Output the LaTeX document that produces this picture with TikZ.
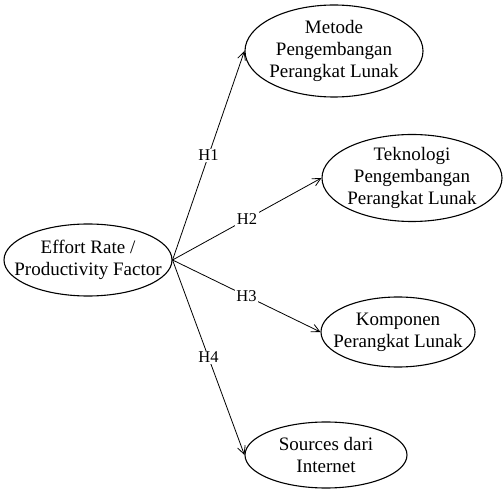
\documentclass[tikz,border=0pt]{standalone}
\usepackage{fontspec}
\setmainfont{Liberation Serif}
\usepackage{tikz}
\usetikzlibrary{arrows.meta,shapes.geometric}
\tikzset{
  factor/.style={ellipse, draw=black, line width=1.1pt, align=center, inner sep=-30pt, font=\fontsize{19}{22}\selectfont},
  hyparr/.style={-{Straight Barb[length=8pt, width=8pt]}, line width=0.8pt},
  hyplabel/.style={fill=white, inner sep=1.5pt, font=\fontsize{16.5}{19}\selectfont}
}

\begin{document}
\begin{tikzpicture}[x=1pt, y=-1pt]
\useasboundingbox (0,0) rectangle (504,489);
\node[factor, minimum width=168pt, minimum height=72pt] (effort) at (88,260) {Effort Rate /\\Productivity Factor};
\node[factor, minimum width=178pt, minimum height=92pt] (metode) at (334,51) {Metode\\Pengembangan\\Perangkat Lunak};
\node[factor, minimum width=180pt, minimum height=87pt] (tekno) at (412,178) {Teknologi\\Pengembangan\\Perangkat Lunak};
\node[factor, minimum width=154pt, minimum height=70pt] (kompo) at (398,332) {Komponen\\Perangkat Lunak};
\node[factor, minimum width=162pt, minimum height=66pt] (sources) at (326,455) {Sources dari\\Internet};
% hipotesis
\draw[hyparr] (effort.east) -- node[hyplabel] {H1} (metode.west);
\draw[hyparr] (effort.east) -- node[hyplabel] {H2} (tekno.west);
\draw[hyparr] (effort.east) -- node[hyplabel] {H3} (kompo.west);
\draw[hyparr] (effort.east) -- node[hyplabel] {H4} (sources.west);
\end{tikzpicture}
\end{document}
